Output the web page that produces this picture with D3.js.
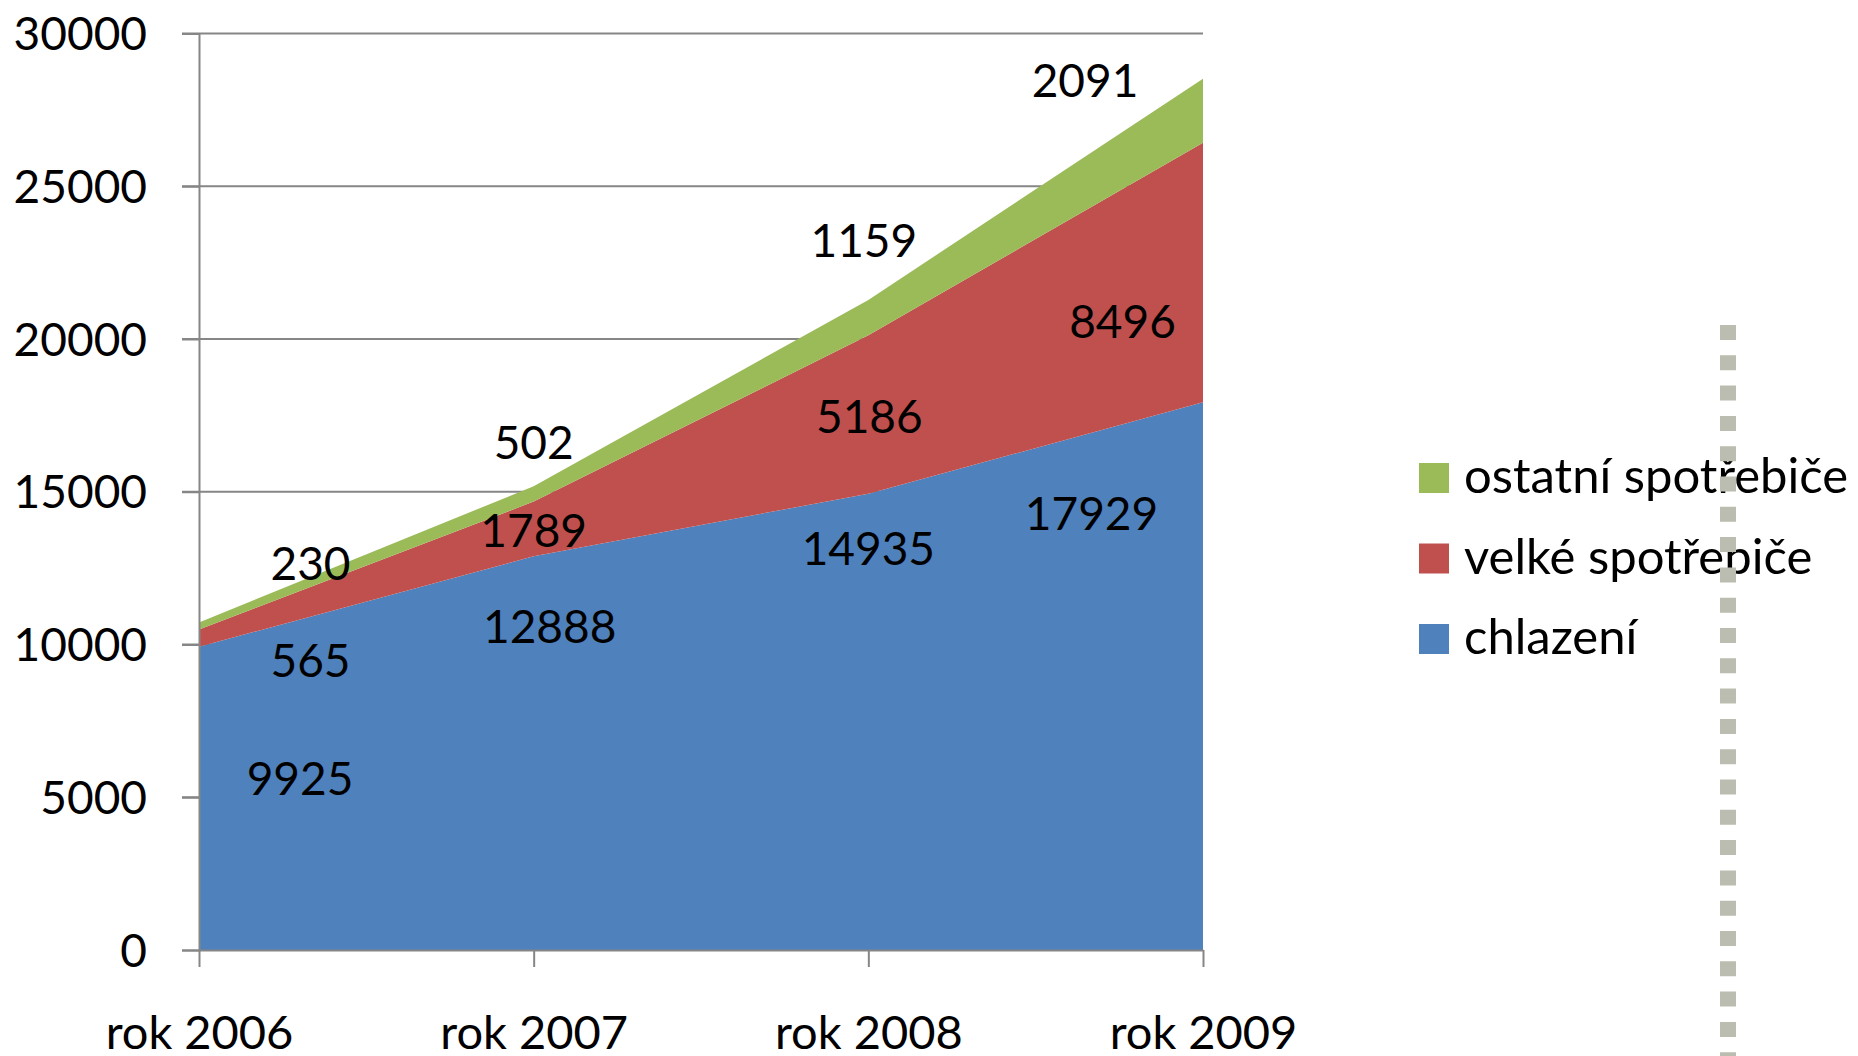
<!DOCTYPE html>
<html>
<head>
<meta charset="utf-8">
<script src="https://cdn.jsdelivr.net/npm/d3@7"></script>
<style>
  html, body { margin: 0; padding: 0; background: #ffffff; }
  svg { display: block; }
  text { font-family: Lato, "Noto Sans", sans-serif; fill: #000; }
</style>
</head>
<body>
<svg id="chart" width="1858" height="1056"></svg>
<script>
// ---- data ----
const categories = ["rok 2006", "rok 2007", "rok 2008", "rok 2009"];
const seriesNames = ["chlazení", "velké spotřebiče", "ostatní spotřebiče"];
const chlazeni = [9925, 12888, 14935, 17929];
const velkeSpotrebice = [565, 1789, 5186, 8496];
const ostatniSpotrebice = [230, 502, 1159, 2091];
const yTicks = [0, 5000, 10000, 15000, 20000, 25000, 30000];
const seriesColors = ["#4F81BD", "#C0504D", "#9BBB59"];

// label placement offsets (pixels) relative to category x and band middle, per series
const labelDx = [
  [101, 16, 0, -111.5],      // chlazení
  [111.5, 0, 1, -80.5],      // velké spotřebiče
  [111.5, 0, -4.5, -118]     // ostatní spotřebiče
];
const labelDy = [
  [-3.5, -110, -157, -146],
  [39, 18, 18, 66],
  [-46, -35, -61, -14]
];

// ---- build ----
const table = categories.map((c, i) => ({
  cat: c,
  s0: chlazeni[i],
  s1: velkeSpotrebice[i],
  s2: ostatniSpotrebice[i]
}));
const keys = ["s0", "s1", "s2"];
const stacked = d3.stack().keys(keys)(table);

const svg = d3.select("#chart");
const x = d3.scalePoint().domain(categories).range([199, 1203]).padding(0);
const y = d3.scaleLinear().domain([0, 30000]).range([950, 33.5]);

const axisColor = "#868686";

// gridlines
svg.append("g").selectAll("line").data(yTicks.filter(t => t > 0)).join("line")
  .attr("x1", 182).attr("x2", x(categories[categories.length - 1]))
  .attr("y1", d => y(d)).attr("y2", d => y(d))
  .attr("stroke", axisColor).attr("stroke-width", 2);

// areas
const area = d3.area()
  .x((d, i) => x(categories[i]))
  .y0(d => y(d[0]))
  .y1(d => y(d[1]));
svg.append("g").selectAll("path").data(stacked).join("path")
  .attr("d", area)
  .attr("fill", (d, i) => seriesColors[i]);

// y axis
const yAxis = svg.append("g").attr("transform", `translate(${x(categories[0])},0)`)
  .call(d3.axisLeft(y).tickValues(yTicks).tickFormat(d3.format("d")).tickSize(17).tickPadding(35));
yAxis.select(".domain").attr("stroke", axisColor).attr("stroke-width", 2);
yAxis.selectAll(".tick line").attr("stroke", axisColor).attr("stroke-width", 2);
yAxis.selectAll(".tick text").attr("dy", 16).attr("font-size", 46)
  .attr("font-family", "Lato, 'Noto Sans', sans-serif").attr("fill", "#000");

// x axis
const xAxis = svg.append("g").attr("transform", `translate(0,${y(0)})`)
  .call(d3.axisBottom(x).tickSize(17).tickSizeOuter(0));
xAxis.select(".domain").attr("stroke", axisColor).attr("stroke-width", 2);
xAxis.selectAll(".tick line").attr("stroke", axisColor).attr("stroke-width", 2);
xAxis.selectAll(".tick text").attr("y", 99).attr("dy", 0).attr("font-size", 47)
  .attr("font-family", "Lato, 'Noto Sans', sans-serif").attr("fill", "#000");

// data labels
const labels = [];
stacked.forEach((layer, si) => {
  layer.forEach((d, ci) => {
    const mid = (d[0] + d[1]) / 2;
    labels.push({
      text: String(d.data[keys[si]]),
      x: x(categories[ci]) + labelDx[si][ci],
      y: y(mid) + labelDy[si][ci]
    });
  });
});
svg.append("g").selectAll("text").data(labels).join("text")
  .attr("x", d => d.x).attr("y", d => d.y)
  .attr("text-anchor", "middle")
  .attr("font-size", 46)
  .text(d => d.text);

// legend (top to bottom: reversed series order)
const legendOrder = [2, 1, 0];
const legend = svg.append("g").attr("transform", "translate(1419,463)");
const lg = legend.selectAll("g").data(legendOrder).join("g")
  .attr("transform", (d, i) => `translate(0,${i * 80.5})`);
lg.append("rect").attr("width", 30).attr("height", 30).attr("fill", d => seriesColors[d]);
lg.append("text").attr("x", 45).attr("y", 30).attr("font-size", 49).text(d => seriesNames[d]);

// dotted vertical border on the right
svg.append("line")
  .attr("x1", 1728).attr("x2", 1728).attr("y1", 325).attr("y2", 1056)
  .attr("stroke", "#babdb0").attr("stroke-width", 16)
  .attr("stroke-dasharray", "15,15.3");
</script>
</body>
</html>
